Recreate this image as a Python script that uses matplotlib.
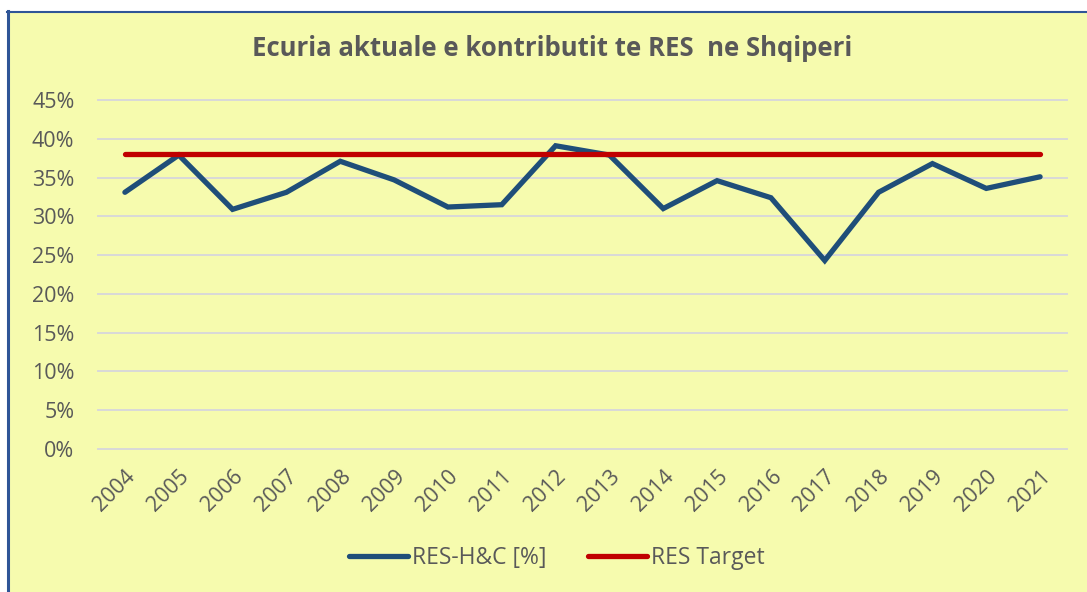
import matplotlib
matplotlib.use("Agg")
import matplotlib.pyplot as plt
from matplotlib.patches import Rectangle
from matplotlib.lines import Line2D

years = ["2004", "2005", "2006", "2007", "2008", "2009", "2010", "2011", "2012",
         "2013", "2014", "2015", "2016", "2017", "2018", "2019", "2020", "2021"]
res_hc = [33.1, 37.9, 30.9, 33.1, 37.1, 34.7, 31.2, 31.5, 39.1,
          37.9, 31.0, 34.6, 32.4, 24.3, 33.1, 36.8, 33.6, 35.1]
res_target = [38.0] * len(years)
yticks = [0, 5, 10, 15, 20, 25, 30, 35, 40, 45]
title = "Ecuria aktuale e kontributit te RES  ne Shqiperi"

plt.rcParams['font.family'] = ['Open Sans', 'DejaVu Sans']
W, H = 1087, 592
fig = plt.figure(figsize=(W / 100, H / 100), dpi=100)
fig.patch.set_facecolor("white")

bg = "#F6FBAE"
fig.add_artist(Rectangle((7 / W, 0), 1 - 7 / W, 1 - 11 / H, transform=fig.transFigure,
                         facecolor=bg, edgecolor="none", zorder=0))
fig.add_artist(Line2D([8 / W, 8 / W], [0, 1 - 11 / H], transform=fig.transFigure,
                      color="#2F5597", lw=2.2, zorder=1))
fig.add_artist(Line2D([7 / W, 1], [1 - 12 / H, 1 - 12 / H], transform=fig.transFigure,
                      color="#2F5597", lw=1.5, zorder=1))

ax = fig.add_axes([98 / W, 1 - 449 / H, (1067 - 98) / W, (449 - 100) / H])
ax.set_facecolor("none")
x = list(range(len(years)))
ax.plot(x, res_hc, color="#1F4E79", lw=3.8, solid_capstyle="round",
        solid_joinstyle="miter", label="RES-H&C [%]", zorder=3)
ax.plot(x, res_target, color="#C00000", lw=3.8, solid_capstyle="round",
        label="RES Target", zorder=4)

ax.set_xlim(-0.5, len(years) - 0.5)
ax.set_ylim(0, 45)
ax.set_yticks(yticks)
ax.set_yticklabels([f"{v}%" for v in yticks])
ax.set_xticks(x)
ax.set_xticklabels(years, rotation=45, ha="right", rotation_mode="anchor")
ax.grid(axis="y", color="#D9D9D9", lw=1.4)
ax.set_axisbelow(True)
for gl in ax.get_ygridlines():
    gl.set_clip_on(False)
for s in ax.spines.values():
    s.set_visible(False)
ax.tick_params(axis="both", length=0, labelsize=15.5, colors="#595959")
ax.tick_params(axis="y", pad=17)
ax.tick_params(axis="x", pad=12)

fig.text(0.508, 1 - 48 / H, title, ha="center", va="center", fontsize=18.5,
         fontweight="bold", color="#595959")

fig.legend(loc="center", bbox_to_anchor=(0.512, 1 - 558 / H), ncol=2, frameon=False,
           fontsize=16.5, labelcolor="#595959", handlelength=2.6, handletextpad=0.15,
           columnspacing=1.8)

fig.savefig("out.png", dpi=100, facecolor="white")
